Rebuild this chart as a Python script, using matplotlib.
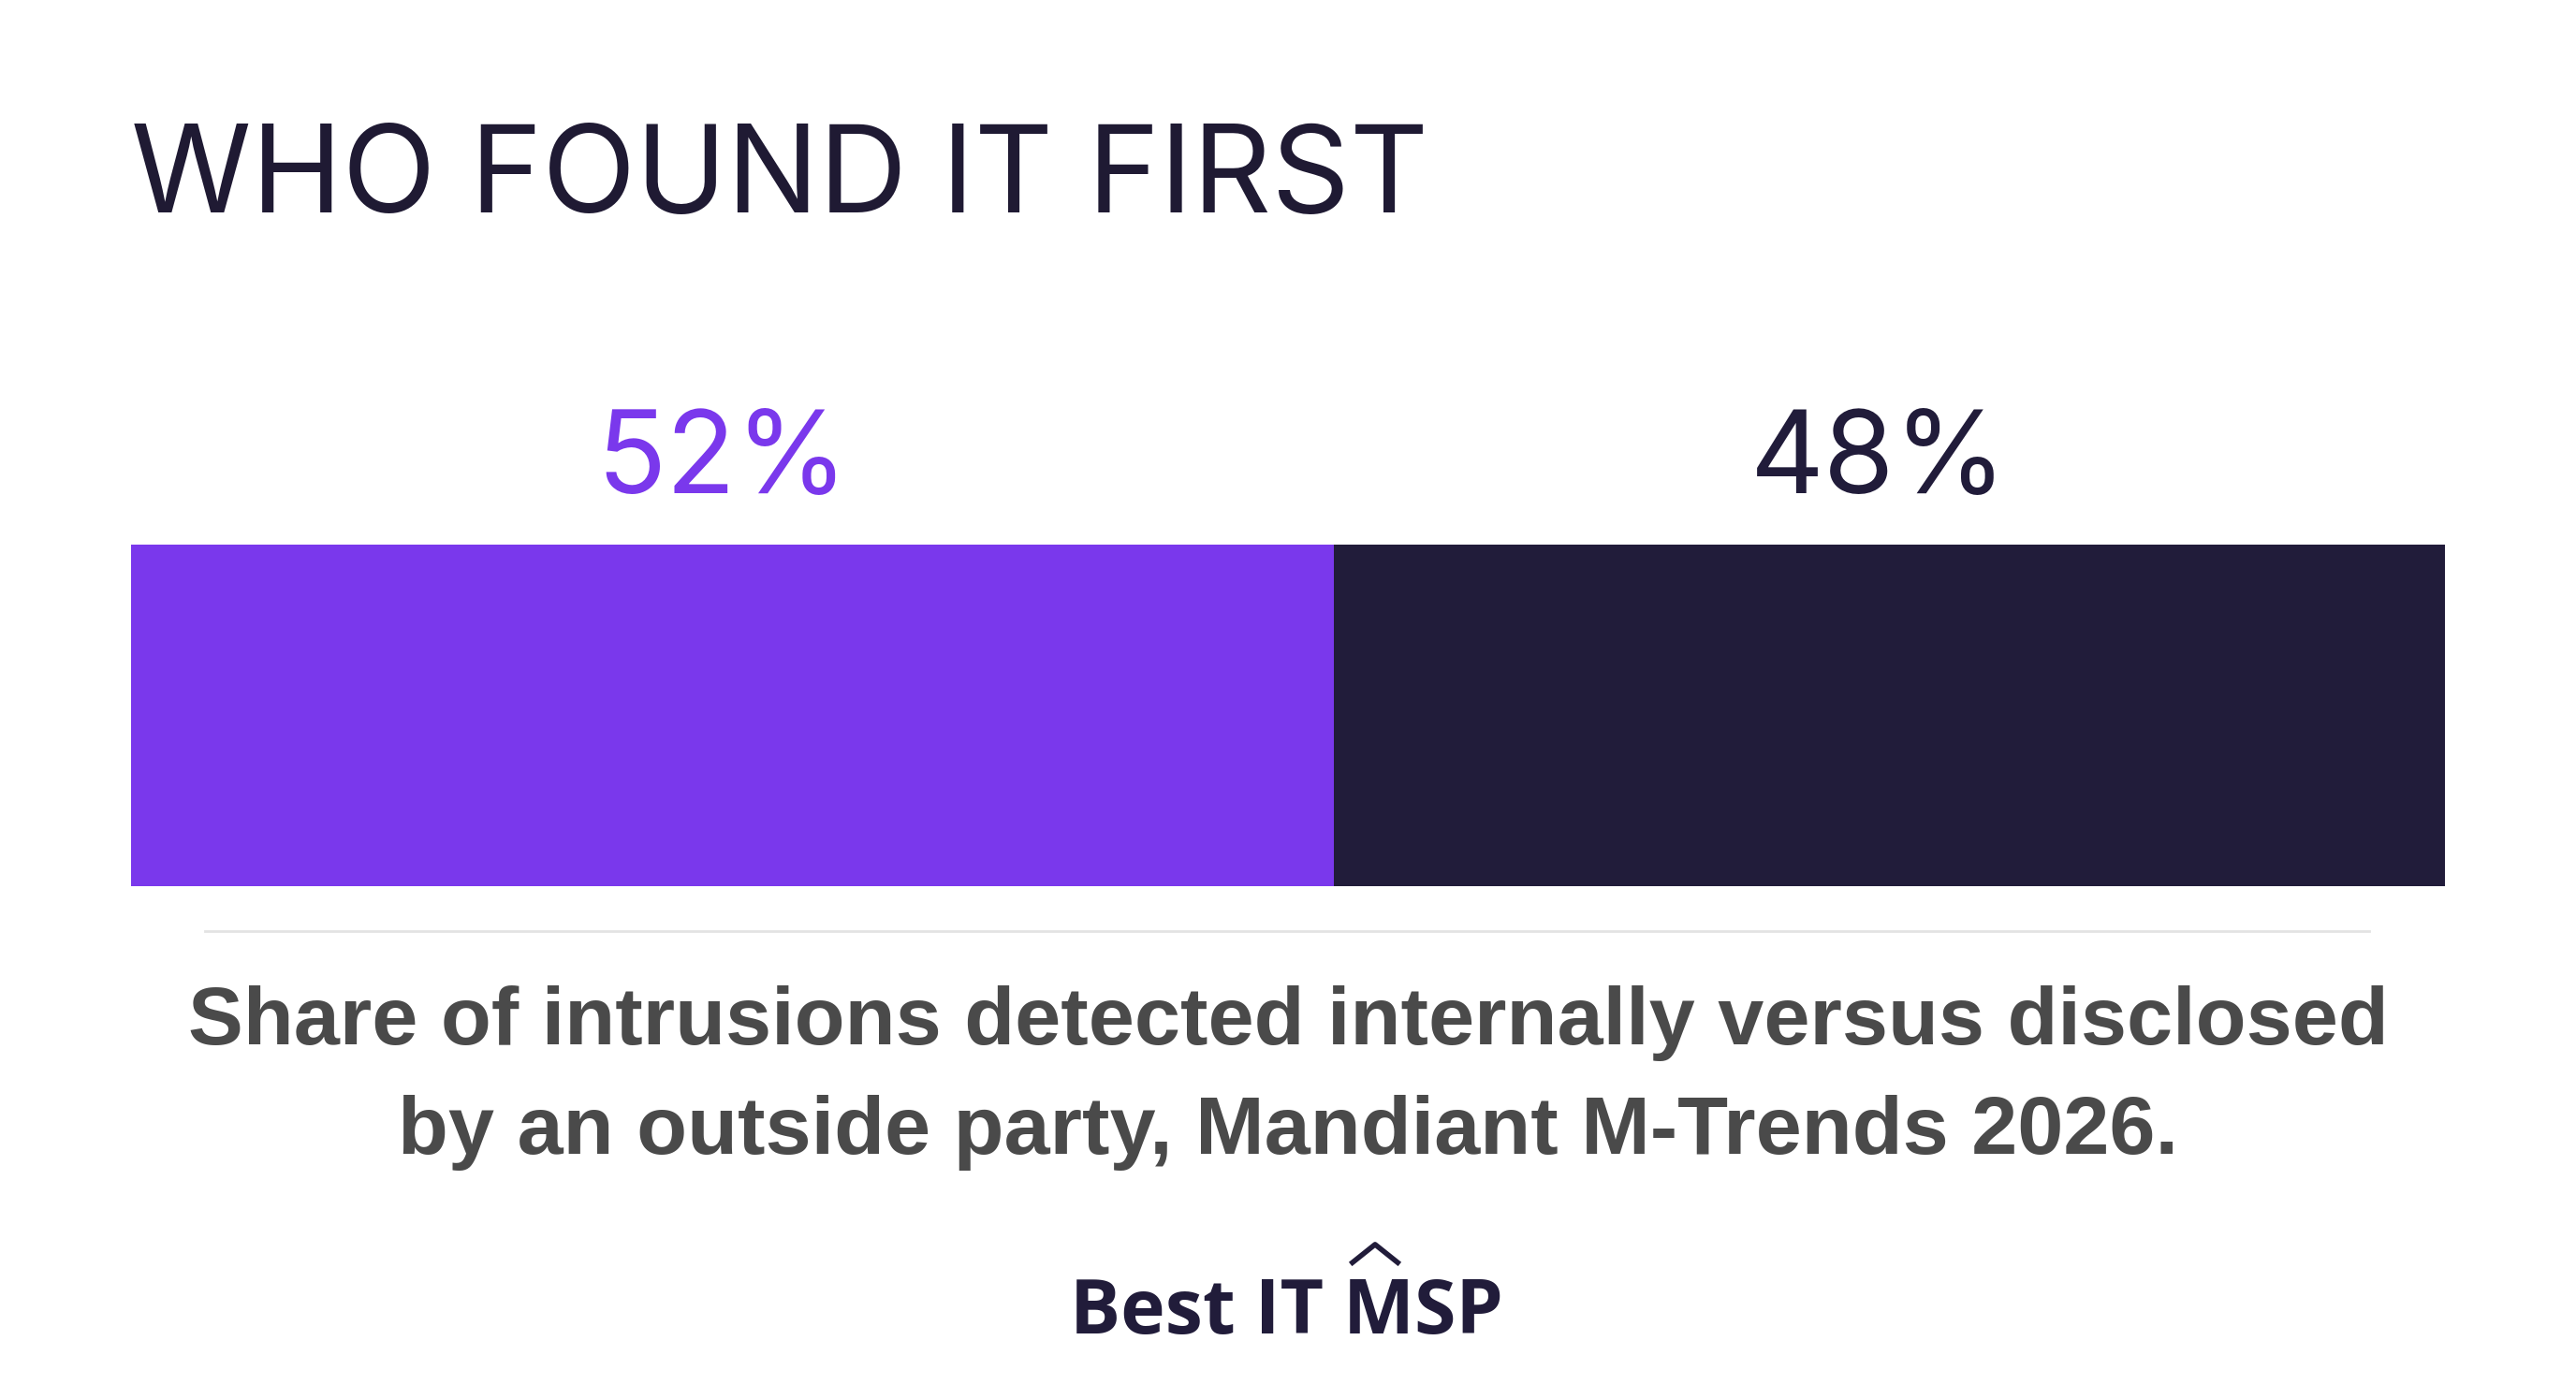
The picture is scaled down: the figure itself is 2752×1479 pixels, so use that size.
import matplotlib
matplotlib.use("Agg")
import matplotlib.pyplot as plt

categories = ["Detected internally", "Disclosed by outside party"]
values = [52, 48]
labels = ["52%", "48%"]
colors = ["#7a38ec", "#211c3a"]
label_colors = ["#7a38ec", "#211c3a"]

W, H = 1568, 843
fig = plt.figure(figsize=(27.52, 14.79), dpi=100)
fig.patch.set_facecolor("white")

def fx(x): return x / W
def fy(y): return 1 - y / H

ax = fig.add_axes([fx(80), fy(540), fx(1488) - fx(80), fy(332) - fy(540)])
left = 0
for v, c in zip(values, colors):
    ax.barh(0, v, left=left, color=c, height=1.0)
    left += v
ax.set_xlim(0, sum(values))
ax.set_ylim(-0.5, 0.5)
ax.axis("off")

left = 0
for v, lab, c in zip(values, labels, label_colors):
    xc = fx(80) + (fx(1488) - fx(80)) * (left + v / 2) / sum(values)
    fig.text(xc - 0.004, fy(282), lab, color=c, fontsize=88, family="Inter", fontweight="normal",
             ha="center", va="center")
    left += v

fig.text(fx(80), fy(110), "WHO FOUND IT FIRST", color="#1f1a33", fontsize=94,
         family="Inter", fontweight="normal", ha="left", va="center")

fig.add_artist(plt.Line2D([fx(125), fx(1442)], [fy(567), fy(567)], color="#e3e3e3", lw=2))

fig.text(0.5, fy(623), "Share of intrusions detected internally versus disclosed",
         color="#4a4a4a", fontsize=63.5, family="Liberation Sans", fontweight="bold",
         ha="center", va="center")
fig.text(0.5, fy(690), "by an outside party, Mandiant M-Trends 2026.",
         color="#4a4a4a", fontsize=63.5, family="Liberation Sans", fontweight="bold",
         ha="center", va="center")

fig.text(fx(783), fy(800), "Best IT MSP", color="#211c3a", fontsize=58,
         family="Open Sans", fontweight="bold", ha="center", va="center")
fig.add_artist(plt.Line2D([fx(822), fx(837), fx(852)], [fy(770), fy(758), fy(770)],
                          color="#211c3a", lw=4, solid_capstyle="butt"))

fig.savefig("out.png", dpi=100, facecolor="white")
